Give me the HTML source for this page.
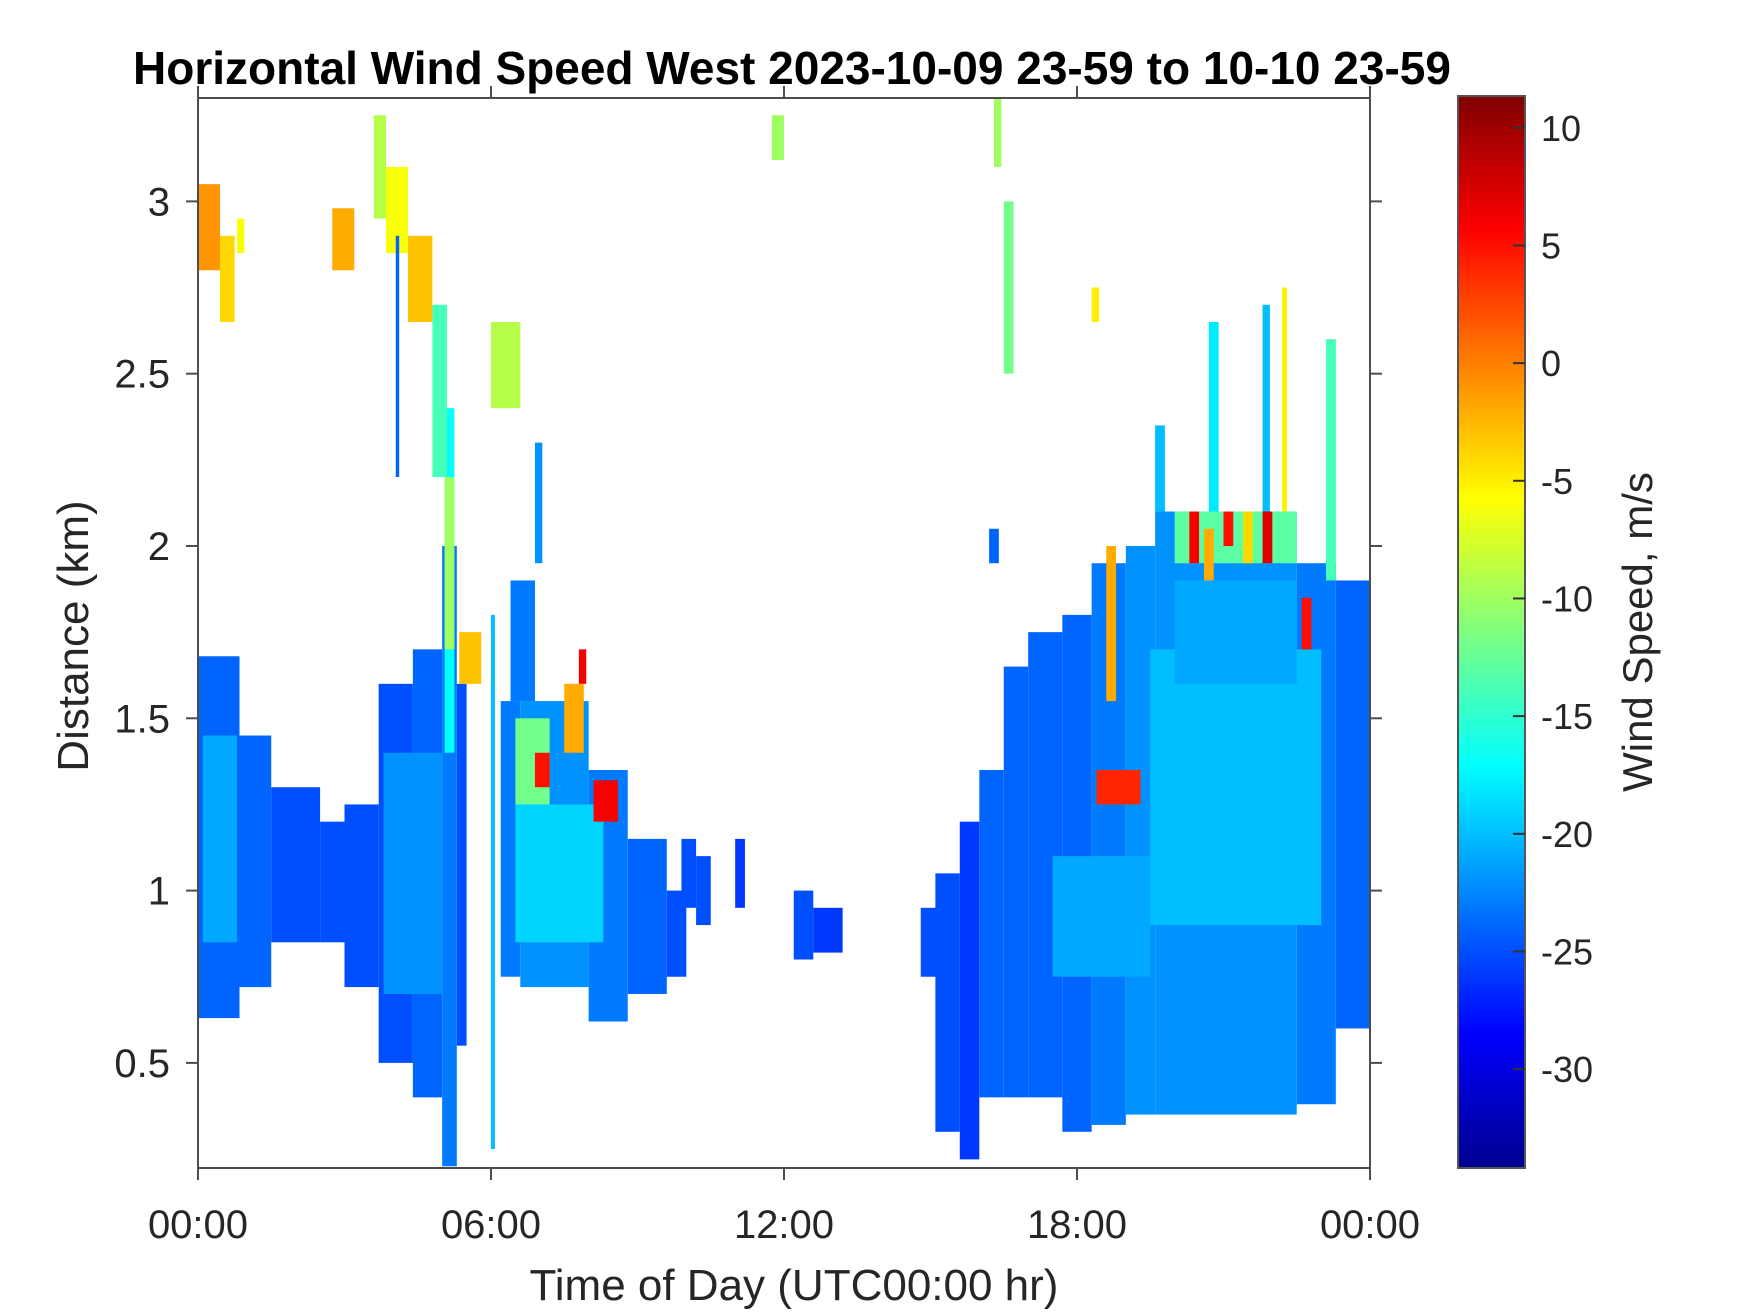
<!DOCTYPE html>
<html><head><meta charset="utf-8">
<style>
html,body{margin:0;padding:0;background:#fff;}
svg{display:block;font-family:"Liberation Sans",Arial,sans-serif;}
</style></head>
<body>
<svg id="chart" width="1750" height="1313" viewBox="0 0 1750 1313">
  <defs>
    <linearGradient id="jet" x1="0" y1="1" x2="0" y2="0">
      <stop offset="0" stop-color="#00008f"/>
      <stop offset="0.125" stop-color="#0000ff"/>
      <stop offset="0.375" stop-color="#00ffff"/>
      <stop offset="0.625" stop-color="#ffff00"/>
      <stop offset="0.875" stop-color="#ff0000"/>
      <stop offset="1" stop-color="#800000"/>
    </linearGradient>
    <clipPath id="plotclip"><rect x="198" y="98" width="1172" height="1070"/></clipPath>
  </defs>
  <text x="792" y="84" text-anchor="middle" font-size="46" font-weight="bold" fill="#000">Horizontal Wind Speed West 2023-10-09 23-59 to 10-10 23-59</text>
  <g id="marks" clip-path="url(#plotclip)"></g>
  <g id="axes"></g>
  <text x="794" y="1300" text-anchor="middle" font-size="44" fill="#262626">Time of Day (UTC00:00 hr)</text>
  <text transform="translate(88,636) rotate(-90)" text-anchor="middle" font-size="44" fill="#262626">Distance (km)</text>
  <rect x="1458" y="96" width="67" height="1072" fill="url(#jet)" stroke="#555" stroke-width="2"/>
  <g id="cbticks"></g>
  <text transform="translate(1652,632) rotate(-90)" text-anchor="middle" font-size="42" fill="#262626">Wind Speed, m/s</text>
</svg>
<script>
// axis data
const xTickHours = [0, 6, 12, 18, 24];
const xTickLabels = ["00:00", "06:00", "12:00", "18:00", "00:00"];
const yTicks = [0.5, 1, 1.5, 2, 2.5, 3];
const yTickLabels = ["0.5", "1", "1.5", "2", "2.5", "3"];
const cbTicks = [10, 5, 0, -5, -10, -15, -20, -25, -30];
// segments: start hour, end hour, low km, high km, speed m/s
const segStart = [0,0.85,1.5,2.5,3.0,3.7,4.4,5.0,5.3,0.1,3.8,5.05,5.05,6.0,6.2,6.6,8.0,8.8,9.6,10.2,6.5,6.5,6.9,7.5,7.8,8.1,6.4,0,0.45,0.8,2.75,3.6,3.85,4.3,4.8,4.05,6.0,6.9,5.35,11.0,11.75,12.2,14.8,15.1,15.6,16.0,16.5,17.0,17.7,18.3,19.0,19.6,22.5,23.3,17.5,19.5,20.0,20.0,20.3,21.0,21.8,22.6,18.4,16.3,16.5,20.7,21.8,22.2,23.1,18.3,19.6,18.6,16.2,12.6,9.9,20.6,21.4];
const segEnd   = [0.85,1.5,2.5,3.0,3.7,4.4,5.0,5.3,5.5,0.8,5.0,5.25,5.25,6.08,6.6,8.0,8.8,9.6,10.0,10.5,8.3,7.2,7.2,7.9,7.95,8.6,6.9,0.45,0.75,0.95,3.2,3.85,4.3,4.8,5.1,4.12,6.6,7.05,5.8,11.2,12.0,12.6,15.2,15.6,16.0,16.5,17.0,17.7,18.3,19.0,19.6,22.5,23.3,24.0,19.5,23.0,22.5,22.5,20.5,21.2,22.0,22.8,19.3,16.45,16.7,20.9,21.95,22.3,23.3,18.45,19.8,18.8,16.4,13.2,10.2,20.8,21.6];
const segLow   = [0.63,0.72,0.85,0.85,0.72,0.5,0.4,0.2,0.55,0.85,0.7,1.4,1.7,0.25,0.75,0.72,0.62,0.7,0.75,0.9,0.85,1.25,1.3,1.4,1.6,1.2,1.55,2.8,2.65,2.85,2.8,2.95,2.85,2.65,2.2,2.2,2.4,1.95,1.6,0.95,3.12,0.8,0.75,0.3,0.22,0.4,0.4,0.4,0.3,0.32,0.35,0.35,0.38,0.6,0.75,0.9,1.6,1.95,1.95,2.0,1.95,1.7,1.25,3.1,2.5,2.1,2.1,2.1,1.9,2.65,2.1,1.55,1.95,0.82,0.95,1.9,1.95];
const segHigh  = [1.68,1.45,1.30,1.2,1.25,1.6,1.7,2.0,1.6,1.45,1.4,2.4,2.2,1.8,1.55,1.55,1.35,1.15,1.0,1.1,1.25,1.5,1.4,1.6,1.7,1.32,1.9,3.05,2.9,2.95,2.98,3.25,3.1,2.9,2.7,2.9,2.65,2.3,1.75,1.15,3.25,1.0,0.95,1.05,1.2,1.35,1.65,1.75,1.8,1.95,2.0,2.1,1.95,1.9,1.1,1.7,1.9,2.1,2.1,2.1,2.1,1.85,1.35,3.3,3.0,2.65,2.7,2.75,2.6,2.75,2.35,2.0,2.05,0.95,1.15,2.05,2.1];
const segSpeed = [-24,-24,-25,-25,-25,-25,-24,-23,-25,-21,-22,-17,-10,-20,-23,-22,-23,-24,-25,-25,-19,-12,5,-2,6,6,-23,-1,-4,-6,-2,-9,-6,-3,-14,-24,-9,-22,-3,-26,-10,-25,-25,-25,-26,-24,-24,-24,-24,-23,-22,-22,-23,-24,-21,-20,-21,-13,6,5,7,5,4,-10,-12,-18,-20,-5,-14,-5,-20,-2,-24,-26,-25,-2,-4];

const X0 = 198, X1 = 1370, Y0 = 98, Y1 = 1168;
const hMin = 0.195, hMax = 3.30;
const vMin = -34.2, vMax = 11.35;
function xScale(t){ return X0 + (t/24)*(X1-X0); }
function yScale(h){ return Y1 - (h-hMin)/(hMax-hMin)*(Y1-Y0); }
function cbScale(v){ return 1168 - (v-vMin)/(vMax-vMin)*(1168-96); }
function jet(v){
  const f = Math.max(0, Math.min(1, (v-vMin)/(vMax-vMin)));
  const c = x => Math.max(0, Math.min(1, x));
  const r = c(1.5 - Math.abs(4*f-3)), g = c(1.5 - Math.abs(4*f-2)), b = c(1.5 - Math.abs(4*f-1));
  return `rgb(${Math.round(r*255)},${Math.round(g*255)},${Math.round(b*255)})`;
}
const NS = "http://www.w3.org/2000/svg";
function mk(tag, attrs, parent){
  const el = document.createElementNS(NS, tag);
  for (const k in attrs) el.setAttribute(k, attrs[k]);
  parent.appendChild(el);
  return el;
}
const marks = document.getElementById('marks');
for (let i = 0; i < segStart.length; i++){
  const x = xScale(segStart[i]), w = xScale(segEnd[i]) - x;
  const y = yScale(segHigh[i]), hh = yScale(segLow[i]) - y;
  const r = mk('rect', {x: x, y: y, width: w, height: hh, fill: jet(segSpeed[i])}, marks);
  
  
}
const axes = document.getElementById('axes');
const frame = mk('rect', {x: X0, y: Y0, width: X1-X0, height: Y1-Y0, fill: 'none', stroke: '#4d4d4d', 'stroke-width': 2}, axes);


xTickHours.forEach((t, i) => {
  const x = xScale(t);
  mk('line', {x1: x, x2: x, y1: Y1, y2: Y1+12, stroke: '#4d4d4d', 'stroke-width': 2}, axes);
  mk('line', {x1: x, x2: x, y1: Y0, y2: Y0-12, stroke: '#4d4d4d', 'stroke-width': 2}, axes);
  const tx = mk('text', {x: x, y: 1238, 'text-anchor': 'middle', 'font-size': 40, fill: '#262626'}, axes);
  tx.textContent = xTickLabels[i];
  
  
});
yTicks.forEach((h, i) => {
  const y = yScale(h);
  mk('line', {x1: X0-12, x2: X0, y1: y, y2: y, stroke: '#4d4d4d', 'stroke-width': 2}, axes);
  mk('line', {x1: X1, x2: X1+12, y1: y, y2: y, stroke: '#4d4d4d', 'stroke-width': 2}, axes);
  const tx = mk('text', {x: 170, y: y+14, 'text-anchor': 'end', 'font-size': 40, fill: '#262626'}, axes);
  tx.textContent = yTickLabels[i];
  
  
});
const cbg = document.getElementById('cbticks');
cbTicks.forEach(v => {
  const y = cbScale(v);
  mk('line', {x1: 1513, x2: 1525, y1: y, y2: y, stroke: '#333', 'stroke-width': 2}, cbg);
  const tx = mk('text', {x: 1541, y: y+13, 'font-size': 36, fill: '#262626'}, cbg);
  tx.textContent = String(v);
  
  
});
</script>
</body></html>
